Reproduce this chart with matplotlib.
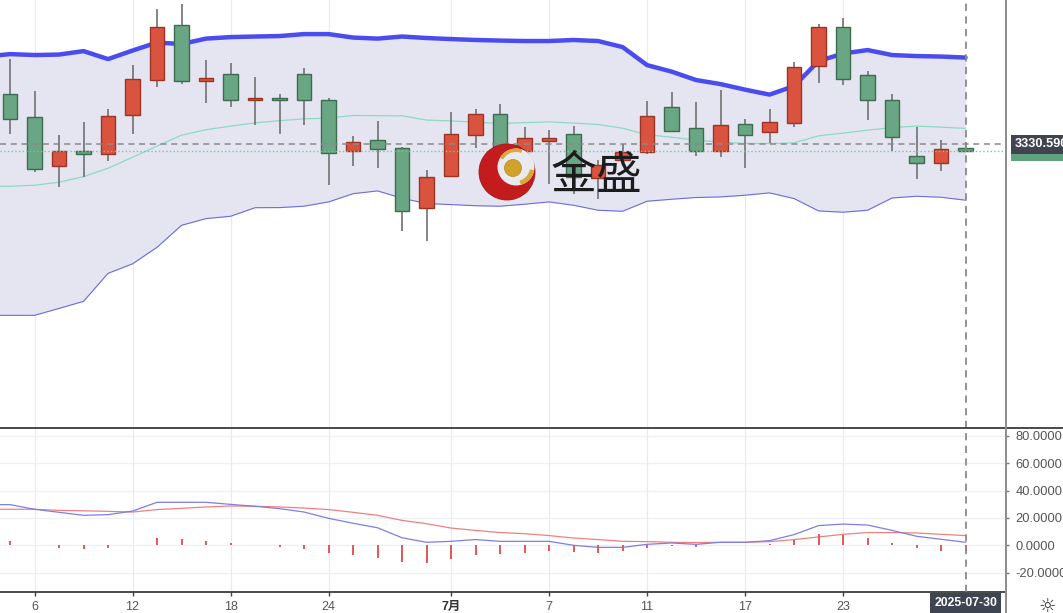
import matplotlib
matplotlib.use("Agg")
import matplotlib.pyplot as plt
from matplotlib.lines import Line2D
from matplotlib.patches import Circle, Wedge
import numpy as np

plt.rcParams['font.family'] = ['Liberation Sans', 'Noto Sans CJK SC', 'DejaVu Sans']

# daily candles, 2025-06-05 .. 2025-07-30
dates = ['2025-06-05', '2025-06-06', '2025-06-09', '2025-06-10', '2025-06-11', '2025-06-12',
         '2025-06-13', '2025-06-16', '2025-06-17', '2025-06-18', '2025-06-19', '2025-06-20',
         '2025-06-23', '2025-06-24', '2025-06-25', '2025-06-26', '2025-06-27', '2025-06-30',
         '2025-07-01', '2025-07-02', '2025-07-03', '2025-07-04', '2025-07-07', '2025-07-08',
         '2025-07-09', '2025-07-10', '2025-07-11', '2025-07-14', '2025-07-15', '2025-07-16',
         '2025-07-17', '2025-07-18', '2025-07-21', '2025-07-22', '2025-07-23', '2025-07-24',
         '2025-07-25', '2025-07-28', '2025-07-29', '2025-07-30']
opens = [3373.6, 3353.7, 3312.1, 3325.1, 3321.7, 3355.7, 3386.2, 3433.5, 3385.3, 3390.9,
         3368.9, 3370.1, 3391.4, 3368.7, 3324.5, 3333.8, 3327.7, 3275.8, 3302.9, 3338.6,
         3356.8, 3324.8, 3333.4, 3339.0, 3301.4, 3316.7, 3323.7, 3362.6, 3344.4, 3324.5,
         3347.6, 3341.0, 3348.5, 3398.1, 3432.1, 3390.0, 3368.7, 3320.5, 3313.9, 3326.9]
highs = [3403.9, 3376.2, 3338.1, 3349.6, 3361.1, 3398.9, 3447.1, 3451.9, 3403.2, 3400.4,
         3388.3, 3374.1, 3396.6, 3370.1, 3337.5, 3350.2, 3328.2, 3308.7, 3358.0, 3360.6,
         3365.2, 3345.6, 3342.7, 3346.2, 3316.7, 3330.6, 3367.8, 3375.3, 3366.9, 3377.3,
         3352.2, 3360.9, 3401.5, 3434.1, 3439.8, 3393.7, 3373.6, 3345.6, 3333.8, 3332.6]
lows = [3339.0, 3306.6, 3293.7, 3301.8, 3315.9, 3339.0, 3380.1, 3382.8, 3366.3, 3362.8,
        3347.0, 3339.8, 3347.3, 3295.1, 3311.8, 3309.6, 3255.6, 3246.7, 3302.3, 3327.4,
        3318.5, 3323.9, 3296.6, 3287.9, 3283.0, 3316.7, 3321.9, 3341.0, 3320.2, 3319.6,
        3310.4, 3331.2, 3345.0, 3383.6, 3381.4, 3351.9, 3324.8, 3300.9, 3307.5, 3324.5]
closes = [3352.5, 3309.2, 3325.1, 3321.9, 3355.1, 3386.5, 3431.8, 3384.8, 3387.9, 3368.9,
          3370.1, 3368.4, 3368.9, 3322.8, 3332.3, 3326.5, 3272.9, 3302.3, 3339.0, 3356.8,
          3325.4, 3336.0, 3336.0, 3302.3, 3313.0, 3323.7, 3355.1, 3342.4, 3324.5, 3346.8,
          3338.4, 3349.4, 3397.2, 3432.1, 3387.1, 3368.4, 3336.9, 3313.9, 3326.3, 3324.5]

# indicator lines start one day earlier (2025-06-04) so they reach the left edge
band_upper = [3406.3, 3408.4, 3407.6, 3408.0, 3411.0, 3404.1, 3411.5, 3418.4, 3417.1, 3421.8,
              3423.1, 3423.6, 3424.0, 3425.7, 3425.7, 3422.7, 3421.8, 3423.6, 3422.3, 3421.4,
              3420.6, 3420.1, 3419.7, 3419.7, 3420.6, 3419.7, 3414.5, 3398.9, 3393.3, 3386.0,
              3382.5, 3377.7, 3373.4, 3380.8, 3402.4, 3408.9, 3411.9, 3407.6, 3406.7, 3406.3,
              3405.4]
band_mid = [3294.2, 3294.2, 3295.1, 3297.7, 3302.5, 3309.8, 3319.3, 3328.9, 3338.4, 3343.1,
            3346.2, 3349.0, 3350.9, 3352.5, 3353.1, 3355.4, 3355.2, 3355.1, 3351.4, 3350.7,
            3349.6, 3348.5, 3349.2, 3349.9, 3348.8, 3347.6, 3344.4, 3338.8, 3336.6, 3334.1,
            3332.3, 3331.2, 3331.2, 3331.7, 3337.8, 3340.1, 3342.7, 3344.9, 3346.2, 3345.3,
            3344.2]
band_lower = [3182.7, 3182.7, 3182.7, 3188.7, 3194.8, 3219.0, 3227.2, 3241.5, 3260.5, 3266.3,
              3268.3, 3275.7, 3275.8, 3277.0, 3280.7, 3287.8, 3290.2, 3283.9, 3279.3, 3278.4,
              3277.4, 3277.0, 3278.7, 3280.7, 3277.8, 3273.5, 3272.6, 3281.3, 3283.0, 3284.5,
              3285.0, 3286.5, 3288.5, 3283.6, 3272.9, 3271.8, 3273.5, 3284.1, 3285.6, 3284.7,
              3282.2]
macd_dif = [29.7, 29.7, 26.3, 24.1, 21.9, 22.4, 25.0, 31.4, 31.4, 31.4, 29.9, 28.5, 26.8, 24.3,
            19.7, 16.1, 12.8, 5.5, 2.2, 2.9, 4.2, 2.9, 2.9, 2.9, 0.0, -1.5, -1.5, 0.7, 1.7,
            0.7, 2.2, 2.2, 3.4, 7.8, 14.4, 15.5, 14.8, 10.9, 6.6, 4.4, 2.2]
macd_dea = [26.3, 26.3, 26.3, 25.5, 25.2, 24.8, 24.3, 26.1, 27.0, 28.0, 28.7, 28.5, 28.0, 27.2,
            26.1, 24.1, 21.9, 18.2, 15.8, 12.6, 10.9, 9.3, 8.5, 7.1, 5.3, 4.2, 2.9, 2.7, 2.2,
            2.0, 2.2, 2.2, 2.7, 4.2, 6.1, 8.0, 9.3, 9.3, 9.0, 8.0, 7.1]
macd_hist = [3.0, 0.3, -2.0, -3.0, -2.0, 0.5, 5.0, 4.5, 3.5, 1.5, 0.3, -1.2, -2.5, -5.5, -7.3,
             -9.0, -12.0, -13.0, -10.0, -7.0, -6.0, -5.4, -4.1, -5.1, -5.4, -4.4, -2.0, -0.7,
             -1.2, 0.2, 0.2, 1.2, 4.0, 8.5, 7.5, 5.0, 1.7, -2.0, -4.0, -4.4]

tick_dates = ['2025-06-06', '2025-06-12', '2025-06-18', '2025-06-24', '2025-07-01',
              '2025-07-07', '2025-07-11', '2025-07-17', '2025-07-23']
tick_labels = ['6', '12', '18', '24', '7月', '7', '11', '17', '23']
sub_ticks = [80, 60, 40, 20, 0, -20]

cross_price = 3330.59
cross_date = '2025-07-30'

W, H = 1063, 613
UP, UP_EDGE = '#d9533f', '#9a3526'
DOWN, DOWN_EDGE = '#69a683', '#3c6b50'
GRID = '#e4ecf2'


def fig_rect(x0, y0, x1, y1):
    """pixel box (top-left origin) -> figure fraction rect"""
    return [x0 / W, 1 - y1 / H, (x1 - x0) / W, (y1 - y0) / H]


fig = plt.figure(figsize=(W / 100, H / 100), dpi=100, facecolor='white')
ax = fig.add_axes(fig_rect(0, 0, 1005.5, 427.5))
sub = fig.add_axes(fig_rect(0, 428.5, 1005.5, 592))

x = np.arange(len(dates))
line_x = np.arange(-1, len(dates))
tick_pos = [dates.index(d) for d in tick_dates]
xlim = (-0.41, 40.63)

# --- price panel
ax.fill_between(line_x, band_lower, band_upper, color='#e5e5f1', lw=0, zorder=1)
ax.plot(line_x, band_upper, color='#4a4cf0', lw=3.2, zorder=2, solid_capstyle='round')
ax.plot(line_x, band_lower, color='#6b6be4', lw=0.8, zorder=2)
ax.plot(line_x, band_mid, color='#8cdac2', lw=0.9, zorder=2)

o, h, l, c = map(np.array, (opens, highs, lows, closes))
rising = c >= o
ax.vlines(x, l, h, color='#717171', lw=1.2, zorder=2.5)
body_lo = np.minimum(o, c)
body_h = np.maximum(np.abs(c - o), 0.9)
ax.bar(x, body_h, bottom=body_lo, width=0.58,
       color=np.where(rising, UP, DOWN), edgecolor=np.where(rising, UP_EDGE, DOWN_EDGE),
       linewidth=1, zorder=3)

for p in tick_pos:
    ax.axvline(p, color=GRID, lw=0.8, zorder=0.5)
ax.axhline(closes[-1], color='#7cc49c', ls=':', lw=1, zorder=4)
ax.axhline(cross_price, color='#8a8a8a', ls=(0, (4, 3)), lw=1.1, zorder=4)
ax.axvline(x[-1], color='#8a8a8a', ls=(0, (4, 3)), lw=1.3, zorder=4)

ax.set_xlim(*xlim)
ax.set_ylim(3085.8, 3455.15)
ax.set_xticks([])
ax.set_yticks([])
for s in ax.spines.values():
    s.set_visible(False)

# price labels on the right axis (last close partly hidden under the crosshair label)
ax.annotate(f'{closes[-1]:.4f}', xy=(1, closes[-1]), xycoords=('axes fraction', 'data'),
            xytext=(6.5, 0), textcoords='offset points', ha='left', va='center',
            fontsize=9.2, color='white', annotation_clip=False, zorder=5,
            bbox=dict(boxstyle='square,pad=0.28', fc='#5fa27d', ec='none'))
ax.annotate(f'{cross_price:.4f}', xy=(1, cross_price), xycoords=('axes fraction', 'data'),
            xytext=(6.5, 0), textcoords='offset points', ha='left', va='center',
            fontsize=9.2, color='white', fontweight='bold', annotation_clip=False, zorder=6,
            bbox=dict(boxstyle='square,pad=0.28', fc='#3f4451', ec='none'))

# --- macd panel
for p in tick_pos:
    sub.axvline(p, color=GRID, lw=0.8, zorder=0.5)
for v in sub_ticks:
    sub.axhline(v, color='#eef2f6', lw=1, zorder=0.4)
sub.plot(line_x, macd_dea, color='#f08080', lw=0.9, zorder=2)
sub.plot(line_x, macd_dif, color='#7d7de8', lw=0.9, zorder=2)
sub.bar(x, macd_hist, width=0.08, color='#e35a5a', zorder=3)
sub.axvline(x[-1], color='#8a8a8a', ls=(0, (4, 3)), lw=1.3, zorder=4)

sub.set_xlim(*xlim)
sub.set_ylim(-34.1, 85.3)
sub.yaxis.tick_right()
sub.set_yticks(sub_ticks)
sub.set_yticklabels([f'{v:.4f}' for v in sub_ticks])
sub.tick_params(axis='y', length=3, width=1, color='#777', pad=4, labelsize=9.3,
                labelcolor='#555')
sub.set_xticks(tick_pos)
sub.set_xticklabels(tick_labels)
sub.tick_params(axis='x', length=3, width=1, color='#444', pad=3.5, labelsize=9,
                labelcolor='#555')
for t in sub.get_xticklabels():
    if t.get_text() == '7月':
        t.set_fontweight('bold')
        t.set_color('#333')
for side in ('top', 'left', 'right'):
    sub.spines[side].set_visible(False)
sub.spines['bottom'].set_color('#3a3a3a')
sub.spines['bottom'].set_linewidth(1.3)

sub.annotate(cross_date, xy=(x[-1], 0), xycoords=('data', 'axes fraction'),
             xytext=(0, -8), textcoords='offset points', ha='center', va='center',
             fontsize=8.8, fontweight='bold', color='white', annotation_clip=False,
             bbox=dict(boxstyle='square,pad=0.32', fc='#3f4451', ec='none'))

# panel separators
fig.add_artist(Line2D([0, 1], [1 - 427.8 / H] * 2, color='#3a3a3a', lw=1.3))
fig.add_artist(Line2D([1005.8 / W] * 2, [0, 1], color='#8c8c8c', lw=1.4))
fig.text(1047 / W, 1 - 606 / H, '☼', fontsize=14, color='#333', ha='center', va='center',
         family='DejaVu Sans')

# watermark logo
logo = fig.add_axes(fig_rect(475, 140, 540, 205), zorder=5)
logo.set_xlim(0, 65)
logo.set_ylim(0, 65)
logo.axis('off')
logo.add_patch(Circle((32, 33), 28, fc='#c41c1c', ec='#a01414', lw=0.6))
logo.add_patch(Circle((41, 38), 18.5, fc='#ebe9f0', ec='none'))
logo.add_patch(Wedge((41, 38), 18.5, 70, 150, width=3.5, fc='#d6aa38', ec='none'))
logo.add_patch(Wedge((41, 38), 18.5, -75, -10, width=4.5, fc='#d6aa38', ec='none'))
logo.add_patch(Circle((38, 37), 8.5, fc='#d0a22a', ec='#b88a1c', lw=0.5))
fig.text(596 / W, 1 - 176 / H, '金盛', fontsize=33, color='#1c1c1c', ha='center',
         va='center', family=['Noto Sans CJK SC', 'DejaVu Sans'], zorder=6)

fig.savefig('out.png', dpi=100, facecolor='white')
